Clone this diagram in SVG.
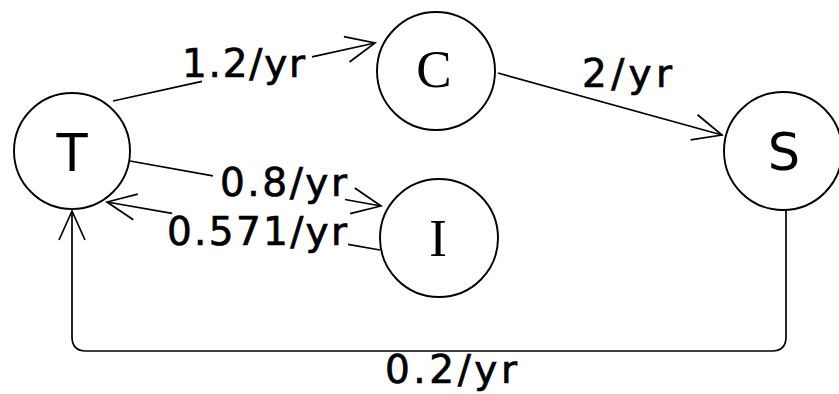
<svg xmlns="http://www.w3.org/2000/svg" width="839" height="394" viewBox="0 0 839 394">
  <style>
    .node { fill: #fff; stroke: #000; stroke-width: 1.9; }
    .sans { font-family: "DejaVu Sans", "Liberation Sans", sans-serif; font-size: 51px; fill: #000; text-anchor: middle; }
    .serif { font-family: "Liberation Serif", "DejaVu Serif", serif; font-size: 53px; fill: #000; text-anchor: middle; }
    .edge { fill: none; stroke: #000; stroke-width: 1.7; marker-end: url(#arr); }
    .lbl { font-family: "DejaVu Sans", "Liberation Sans", sans-serif; font-size: 39px; fill: #000; stroke: #000; stroke-width: 0.7; }
  </style>
  <defs>
    <marker id="arr" markerUnits="userSpaceOnUse" orient="auto" markerWidth="40" markerHeight="40" refX="0" refY="0" viewBox="-35 -20 40 40" overflow="visible">
      <path d="M-29,-13 L0,0 L-29,13" fill="none" stroke="#000" stroke-width="1.7"/>
    </marker>
  </defs>
  <rect width="839" height="394" fill="#fff"/>
  <g id="connectors">
    <path class="edge" d="M113,101 L202,81.3 M312,56.9 L375,43"/>
    <path class="edge" d="M498,73 L722,135"/>
    <path class="edge" d="M130,161 L213,175.9 M345,199.5 L381,206"/>
    <path class="edge" d="M380,250 L348,244.4 M172,213.3 L107,202"/>
    <path class="edge" d="M786,210 L786,337 Q786,351 772,351 L86,351 Q72,351 72,337 L72,211"/>
    <text class="lbl" x="182" y="77" textLength="123" lengthAdjust="spacing">1.2/yr</text>
    <text class="lbl" x="582" y="87" textLength="90" lengthAdjust="spacing">2/yr</text>
    <text class="lbl" x="220" y="196" textLength="127" lengthAdjust="spacing">0.8/yr</text>
    <text class="lbl" x="167" y="245" textLength="180" lengthAdjust="spacing">0.571/yr</text>
    <text class="lbl" x="385" y="383" textLength="132" lengthAdjust="spacing">0.2/yr</text>
  </g>
  <g id="T">
    <circle class="node" cx="72" cy="151" r="58"/>
    <text class="sans" x="72" y="171">T</text>
  </g>
  <g id="C">
    <circle class="node" cx="436" cy="71" r="59"/>
    <text class="serif" x="434" y="87">C</text>
  </g>
  <g id="I">
    <circle class="node" cx="439" cy="238" r="59"/>
    <text class="serif" x="438" y="256">I</text>
  </g>
  <g id="S">
    <circle class="node" cx="783" cy="151" r="59"/>
    <text class="sans" x="784" y="170">S</text>
  </g>
</svg>
